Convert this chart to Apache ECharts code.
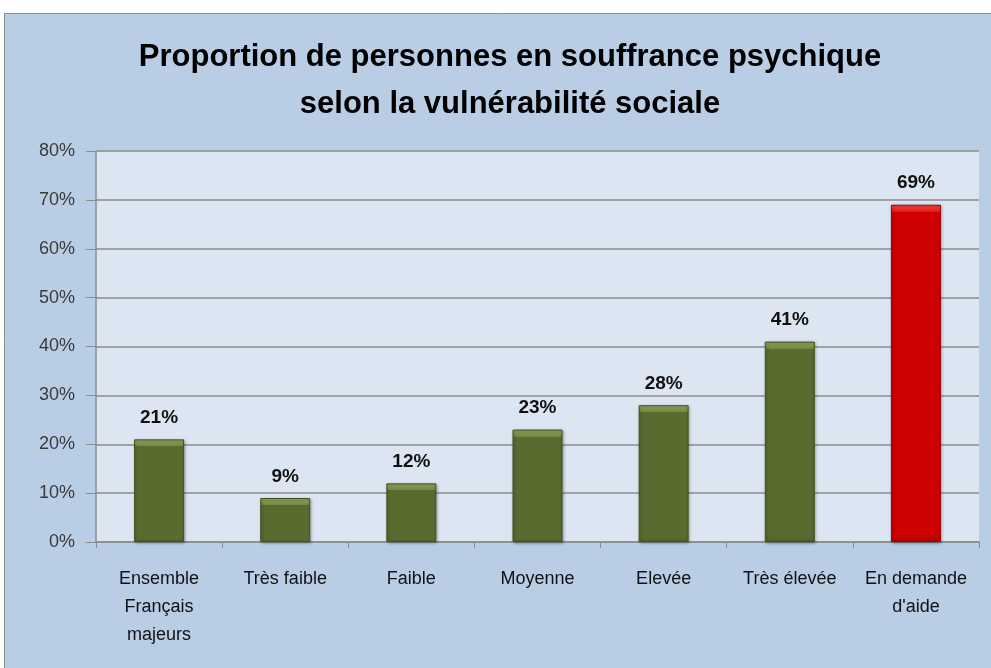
<!DOCTYPE html>
<html>
<head>
<meta charset="utf-8">
<script src="https://cdn.jsdelivr.net/npm/echarts@6/dist/echarts.min.js"></script>
<style>
  html, body { margin: 0; padding: 0; background: #fff; }
  #chart { width: 991px; height: 668px; }
</style>
</head>
<body>
<div id="chart"></div>
<script>
const categories = ["Ensemble\nFrançais\nmajeurs", "Très faible", "Faible", "Moyenne", "Elevée", "Très élevée", "En demande\nd'aide"];
const values = [21, 9, 12, 23, 28, 41, 69];
const highlight = [false, false, false, false, false, false, true];
const yTicks = [0, 10, 20, 30, 40, 50, 60, 70, 80];

const font = "'Liberation Sans', Arial, sans-serif";
const plotHeight = 391; // px between 0% and 80%

// vertical fill with a lighter bevel band of ~7px at the top of each bar
function barFill(v, red) {
  const k = Math.min(0.5, 7 / (v / 80 * plotHeight));
  const top = red ? "#ff4a4a" : "#94ab66";
  const mid = red ? "#cf0000" : "#5a6b30";
  const low = red ? "#b80000" : "#4f5f28";
  return new echarts.graphic.LinearGradient(0, 0, 0, 1, [
    { offset: 0, color: top },
    { offset: k, color: red ? "#e21a1a" : "#71863f" },
    { offset: k + 0.001, color: mid },
    { offset: 0.97, color: mid },
    { offset: 1, color: low }
  ]);
}

const chart = echarts.init(document.getElementById("chart"));
chart.setOption({
  backgroundColor: "#ffffff",
  animation: false,
  graphic: [{
    type: "rect",
    z: -10,
    shape: { x: 4.5, y: 13.5, width: 1000, height: 700 },
    style: { fill: "#b9cde5", stroke: "#8c8c8c", lineWidth: 1 }
  }],
  title: {
    text: "Proportion de personnes en souffrance psychique\nselon la vulnérabilité sociale",
    left: 505,
    top: 29,
    textAlign: "center",
    textStyle: { fontFamily: font, fontSize: 31, fontWeight: "bold", color: "#000", lineHeight: 47 }
  },
  grid: { left: 96, right: 12, top: 151, bottom: 126, show: true, backgroundColor: "#dce6f2", borderWidth: 0 },
  xAxis: {
    type: "category",
    data: categories,
    axisLine: { lineStyle: { color: "#8c8c8c", width: 1.5 } },
    axisTick: { show: true, length: 6, lineStyle: { color: "#8c8c8c" } },
    axisLabel: { fontFamily: font, fontSize: 18, color: "#111", margin: 23, lineHeight: 28, interval: 0 }
  },
  yAxis: {
    type: "value",
    min: 0,
    max: 80,
    interval: 10,
    axisLine: { show: true, lineStyle: { color: "#8c8c8c", width: 1.5 } },
    axisTick: { show: true, length: 10, lineStyle: { color: "#8c8c8c" } },
    axisLabel: {
      fontFamily: font, fontSize: 18, color: "#3a3a3a", margin: 21,
      formatter: v => yTicks.indexOf(v) >= 0 ? v + "%" : ""
    },
    splitLine: { lineStyle: { color: "#8c8c8c", width: 1.5 } }
  },
  series: [{
    type: "bar",
    barWidth: 50,
    data: values.map((v, i) => ({
      value: v,
      itemStyle: { color: barFill(v, highlight[i]), borderColor: highlight[i] ? "#9c0000" : "#44521f", borderWidth: 1 }
    })),
    itemStyle: { shadowColor: "rgba(0,0,0,0.35)", shadowBlur: 3, shadowOffsetX: 1, shadowOffsetY: 1 },
    label: {
      show: true,
      position: "top",
      distance: 12,
      formatter: p => p.value + "%",
      fontFamily: font, fontSize: 19, fontWeight: "bold", color: "#111"
    }
  }]
});
</script>
</body>
</html>
